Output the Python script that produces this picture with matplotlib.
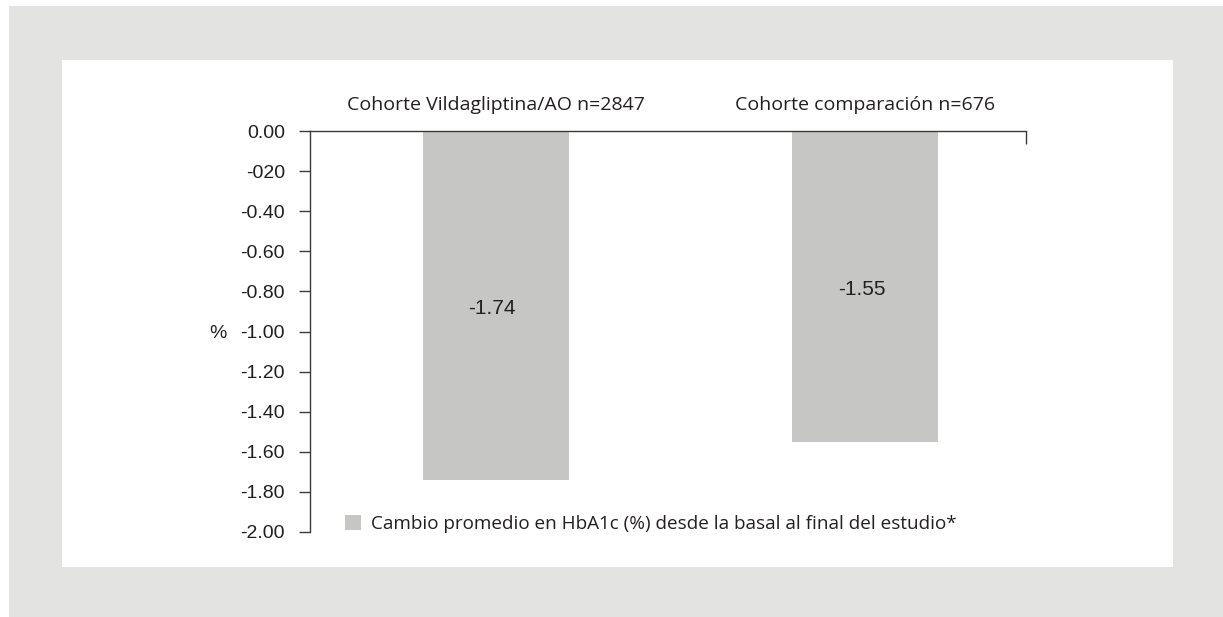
import matplotlib
matplotlib.use("Agg")
import matplotlib.pyplot as plt
from matplotlib.patches import Rectangle

# Data
cohorts = ["Cohorte Vildagliptina/AO n=2847", "Cohorte comparación n=676"]
hba1c_change = [-1.74, -1.55]
value_labels = ["-1.74", "-1.55"]
y_ticks = [0.0, -0.2, -0.4, -0.6, -0.8, -1.0, -1.2, -1.4, -1.6, -1.8, -2.0]
y_tick_labels = ["0.00", "-020", "-0.40", "-0.60", "-0.80", "-1.00",
                 "-1.20", "-1.40", "-1.60", "-1.80", "-2.00"]
legend_label = "Cambio promedio en HbA1c (%) desde la basal al final del estudio*"
y_unit = "%"

W, H, DPI = 1223, 617, 100
TEXT = "#231f20"
AXIS = "#3a3a3a"
BAR = "#c6c6c5"
FRAME = "#e3e3e2"
SANS = ["Liberation Sans", "DejaVu Sans"]
HUMANIST = ["Open Sans", "DejaVu Sans"]

fig = plt.figure(figsize=(W / DPI, H / DPI), dpi=DPI, facecolor="white")

def px_rect(x0, y0, x1, y1, color):
    fig.patches.append(Rectangle((x0 / W, 1 - y1 / H), (x1 - x0) / W, (y1 - y0) / H,
                                 transform=fig.transFigure, facecolor=color,
                                 edgecolor="none", zorder=-10))

# Grey frame with white panel inside
px_rect(9, 6, W, H, FRAME)
px_rect(62, 60, 1173, 567, "white")

ax = fig.add_axes([310 / W, 1 - 532 / H, 716 / W, 401 / H])
ax.set_facecolor("none")

x = list(range(len(cohorts)))
bars = ax.bar(x, hba1c_change, width=0.396, color=BAR, label=legend_label, zorder=2)

ax.set_ylim(-2.0, 0.0)
ax.set_xlim(-0.504, 1.436)

for sp in ("bottom", "right"):
    ax.spines[sp].set_visible(False)
for sp in ("left", "top"):
    ax.spines[sp].set_color(AXIS)
    ax.spines[sp].set_linewidth(1.0)

ax.set_yticks(y_ticks)
ax.set_yticklabels(y_tick_labels, fontfamily=SANS, fontsize=14, color=TEXT)
ax.tick_params(axis="y", direction="out", length=8, width=1.0, color=AXIS, pad=10)

# Only a closing tick at the right end of the top axis line
ax.xaxis.tick_top()
ax.set_xticks([ax.get_xlim()[1]])
ax.set_xticklabels([""])
ax.tick_params(axis="x", direction="in", length=9.5, width=1.0, color=AXIS)

# Bar value labels
for xi, v, lab in zip(x, hba1c_change, value_labels):
    ax.text(xi - 0.01, v * 0.51, lab, ha="center", va="center",
            fontfamily=SANS, fontsize=15, color=TEXT, zorder=3)

# Cohort names above the axis
for xi, name in zip(x, cohorts):
    ax.annotate(name, xy=(xi, 0), xycoords="data", xytext=(0, 18.5),
                textcoords="offset points", ha="center", va="center",
                fontfamily=HUMANIST, fontsize=14, color=TEXT)

fig.text(218 / W, 1 - 333 / H, y_unit, ha="center", va="center",
         fontfamily=SANS, fontsize=14, color=TEXT)

leg = ax.legend(handles=[bars], loc="center left",
                bbox_to_anchor=(345 / W, 1 - 524 / H), bbox_transform=fig.transFigure,
                frameon=False, borderpad=0, borderaxespad=0,
                handlelength=0.85, handleheight=0.85, handletextpad=0.55,
                prop={"family": HUMANIST, "size": 13.6})
for t in leg.get_texts():
    t.set_color(TEXT)

fig.savefig("out.png", dpi=DPI, facecolor="white")
